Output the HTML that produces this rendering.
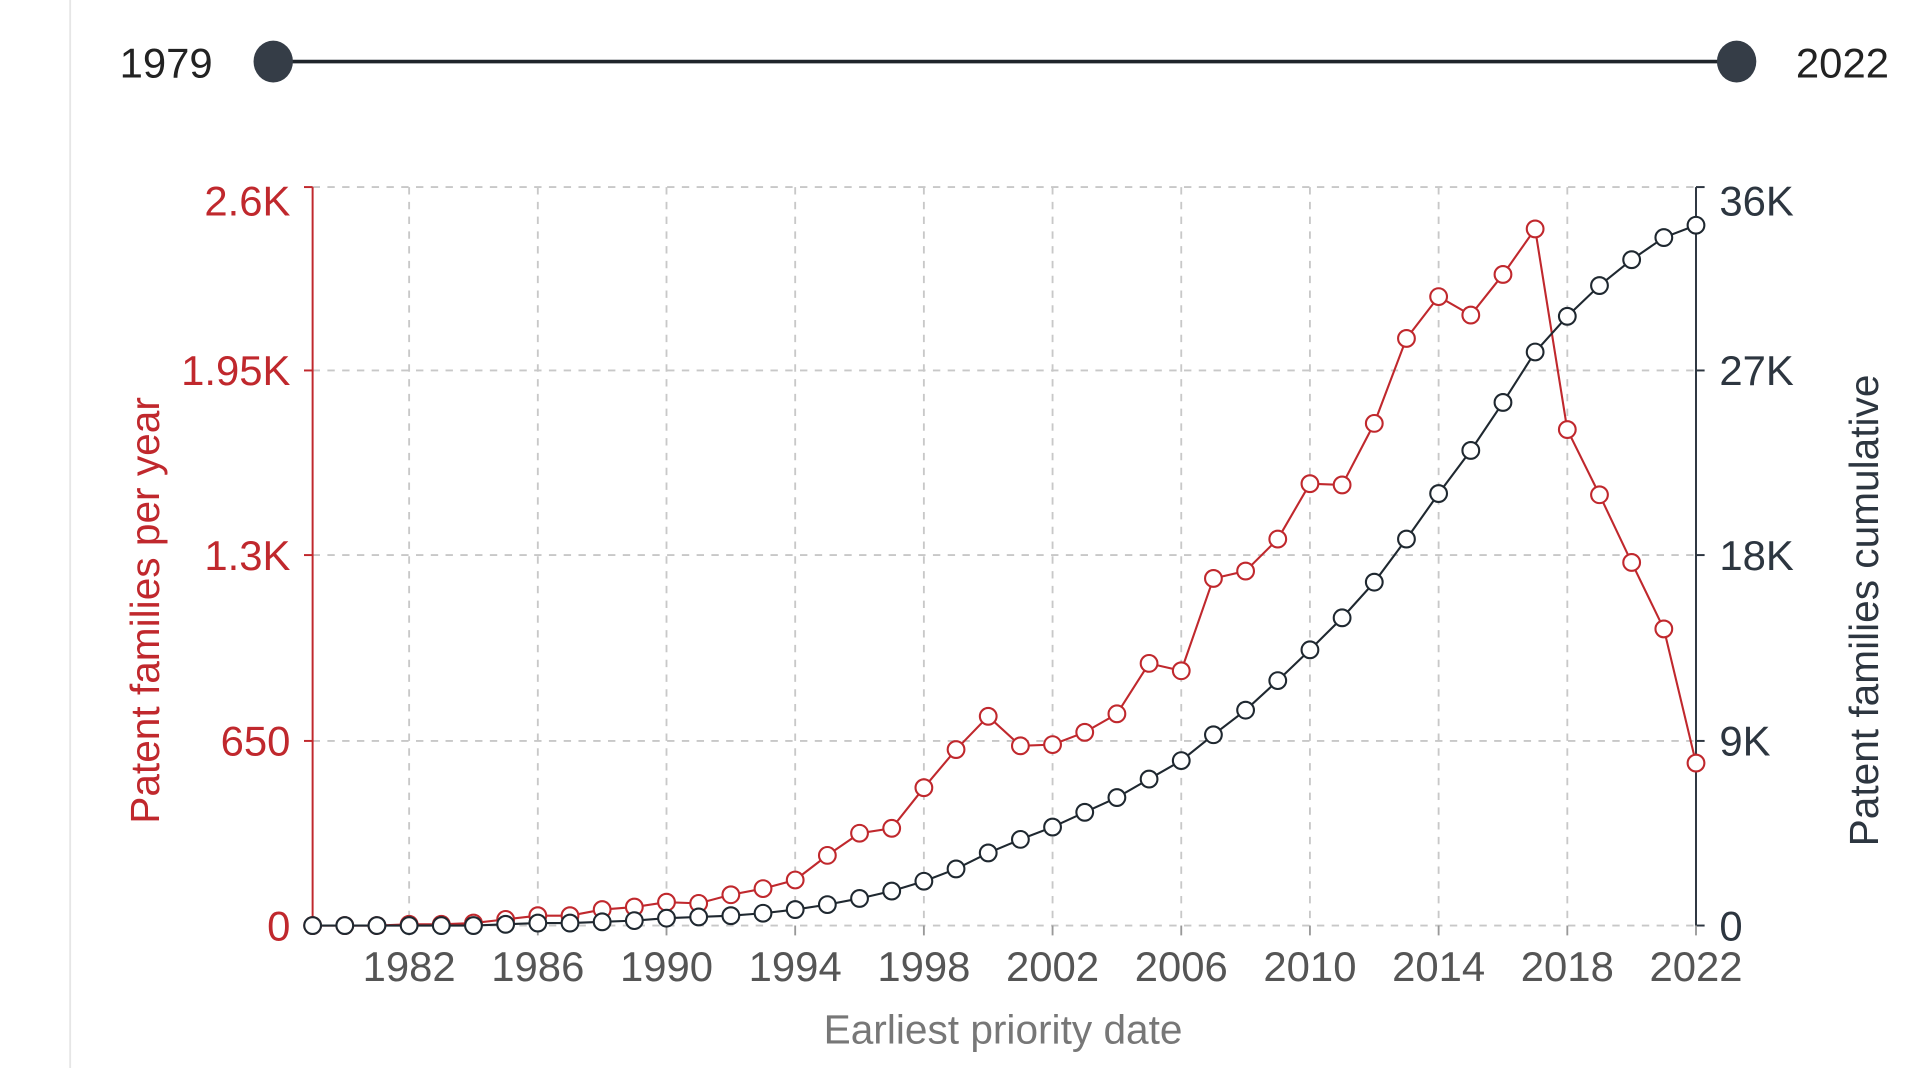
<!DOCTYPE html>
<html><head><meta charset="utf-8"><style>html,body{margin:0;padding:0;background:#fff;overflow:hidden}svg{display:block}</style></head>
<body>
<svg id="s" width="1920" height="1068" viewBox="0 0 1560 867.75" xmlns="http://www.w3.org/2000/svg" font-family="Liberation Sans, Arial, sans-serif">
<line x1="57" y1="0" x2="57" y2="868" stroke="#e6e6e6" stroke-width="1.5"/>
<text x="135" y="63" font-size="34" fill="#222" text-anchor="middle">1979</text>
<text x="1497" y="63" font-size="34" fill="#222" text-anchor="middle">2022</text>
<line x1="222" y1="50" x2="1411" y2="50" stroke="#1f252b" stroke-width="3"/>
<ellipse cx="222" cy="50" rx="16" ry="17" fill="#353d47"/>
<ellipse cx="1411" cy="50" rx="16" ry="17" fill="#353d47"/>
<g id="grid" stroke="#c8c8c8" stroke-width="1.5" stroke-dasharray="6,6" fill="none"></g>
<g id="ax"></g>
<line x1="254" y1="152" x2="254" y2="752" stroke="#c0282d" stroke-width="1.6"/>
<line x1="1378" y1="152" x2="1378" y2="752" stroke="#2d3640" stroke-width="1.6"/>
<g font-size="34" fill="#c0282d" text-anchor="end">
<text x="236" y="175">2.6K</text><text x="236" y="313">1.95K</text><text x="236" y="463">1.3K</text><text x="236" y="614">650</text><text x="236" y="764">0</text>
</g>
<g font-size="34" fill="#2d3640">
<text x="1397" y="175">36K</text><text x="1397" y="313">27K</text><text x="1397" y="463">18K</text><text x="1397" y="614">9K</text><text x="1397" y="764">0</text>
</g>
<g id="xt" font-size="34" fill="#555" text-anchor="middle"></g>
<text x="815" y="848" font-size="33" fill="#777" text-anchor="middle">Earliest priority date</text>
<text transform="translate(129,496) rotate(-90)" font-size="33" fill="#c0282d" text-anchor="middle">Patent families per year</text>
<text transform="translate(1526,496) rotate(-90)" font-size="33" fill="#2d3640" text-anchor="middle">Patent families cumulative</text>
<g id="series"></g>
</svg>
<script>
var NS="http://www.w3.org/2000/svg";
function X(i){return 254+i*1124/43;}
var g=document.getElementById("grid"),xt=document.getElementById("xt"),se=document.getElementById("series"),ax=document.getElementById("ax");
function el(p,t,a){var e=document.createElementNS(NS,t);for(var k in a)e.setAttribute(k,a[k]);p.appendChild(e);return e;}
[152,301,451,602,752].forEach(function(y){el(g,"line",{x1:254,y1:y,x2:1378,y2:y});
el(ax,"line",{x1:247,y1:y,x2:254,y2:y,stroke:"#c0282d","stroke-width":1.6});
el(ax,"line",{x1:1378,y1:y,x2:1385,y2:y,stroke:"#2d3640","stroke-width":1.6});});
for(var yr=1982;yr<=2022;yr+=4){var x=X(yr-1979);if(yr<2022)el(g,"line",{x1:x,y1:152,x2:x,y2:752});
el(xt,"line",{x1:x,y1:752,x2:x,y2:760,stroke:"#999","stroke-width":1.5});
var t=el(xt,"text",{x:x,y:797});t.textContent=yr;}
var red=[752,752,752,751,751,750,747,744,744,739,737,733,734,727,722,715,695,677,673,640,609,582,606,605,595,580,539,545,470,464,438,393,394,344,275,241,256,223,186,349,402,457,511,620];
var blk=[752,752,752,752,752,752,751,750,750,749,748,746,745,744,742,739,735,730,724,716,706,693,682,672,660,648,633,618,597,577,553,528,502,473,438,401,366,327,286,257,232,211,193,183];
function draw(d,c){var p="";d.forEach(function(y,i){p+=(i?"L":"M")+X(i).toFixed(1)+","+y+" ";});
el(se,"path",{d:p,fill:"none",stroke:c,"stroke-width":1.7});
d.forEach(function(y,i){el(se,"circle",{cx:X(i),cy:y,r:6.8,fill:"#fff",stroke:c,"stroke-width":1.7});});}
draw(red,"#c0282d");draw(blk,"#1f2830");
</script>
</body></html>
